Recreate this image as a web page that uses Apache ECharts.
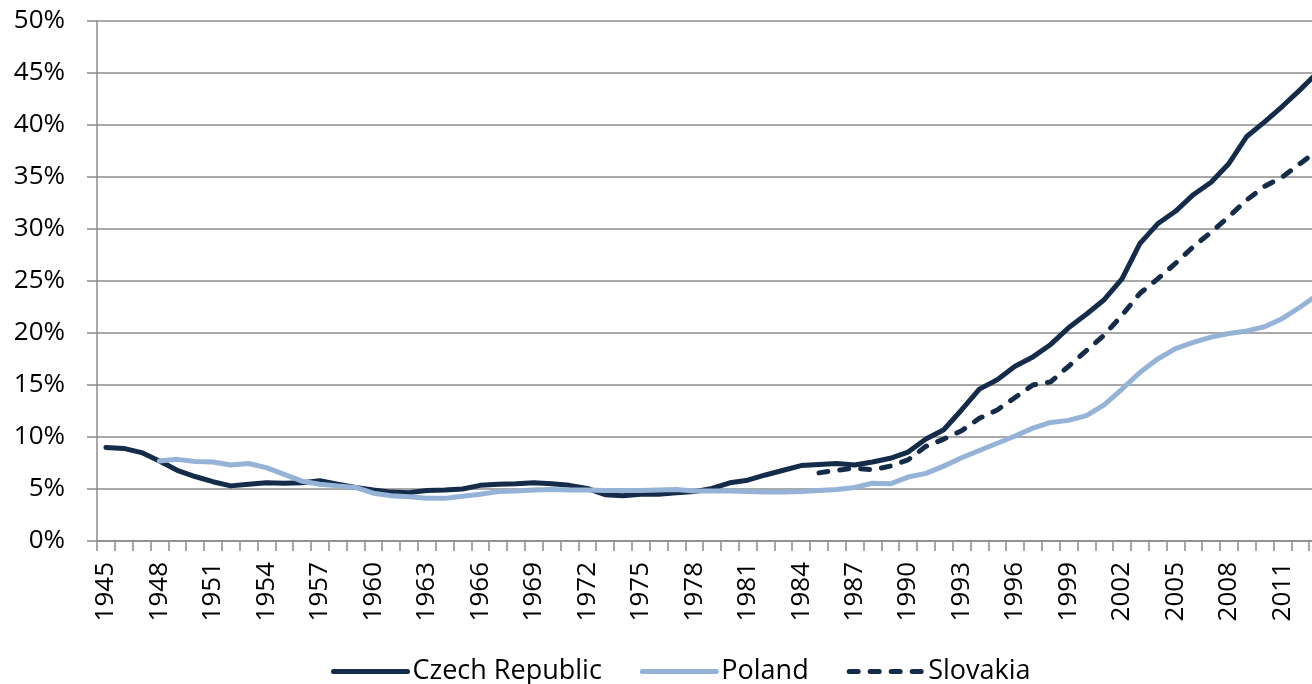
<!DOCTYPE html>
<html>
<head>
<meta charset="utf-8">
<script src="https://cdn.jsdelivr.net/npm/echarts@6.0.0/dist/echarts.min.js"></script>
<style>
  html, body { margin: 0; padding: 0; background: #fff; }
  #chart { width: 1312px; height: 684px; }
</style>
</head>
<body>
<div id="chart"></div>
<script>
// years on the category axis
var years = ['1945','1946','1947','1948','1949','1950','1951','1952','1953','1954',
  '1955','1956','1957','1958','1959','1960','1961','1962','1963','1964',
  '1965','1966','1967','1968','1969','1970','1971','1972','1973','1974',
  '1975','1976','1977','1978','1979','1980','1981','1982','1983','1984',
  '1985','1986','1987','1988','1989','1990','1991','1992','1993','1994',
  '1995','1996','1997','1998','1999','2000','2001','2002','2003','2004',
  '2005','2006','2007','2008','2009','2010','2011','2012','2013'];

// Czech Republic, 1945-2013 (%)
var czech = [9.0, 8.9, 8.5, 7.7, 6.8, 6.2, 5.7, 5.3, 5.45, 5.6,
  5.55, 5.6, 5.8, 5.45, 5.15, 4.9, 4.7, 4.65, 4.85, 4.9,
  5.0, 5.35, 5.45, 5.5, 5.6, 5.5, 5.35, 5.05, 4.45, 4.35,
  4.5, 4.5, 4.65, 4.75, 5.05, 5.6, 5.85, 6.35, 6.8, 7.25,
  7.35, 7.45, 7.3, 7.6, 7.95, 8.55, 9.8, 10.7, 12.6, 14.6,
  15.5, 16.8, 17.7, 18.9, 20.5, 21.8, 23.2, 25.2, 28.6, 30.5,
  31.7, 33.3, 34.5, 36.3, 38.9, 40.3, 41.8, 43.4, 45.1];

// Poland, 1948-2013 (%)
var polandStart = '1948';
var poland = [7.7, 7.85, 7.65, 7.6, 7.3, 7.45, 7.05,
  6.4, 5.75, 5.45, 5.3, 5.15, 4.6, 4.35, 4.25, 4.1, 4.1,
  4.3, 4.5, 4.75, 4.8, 4.9, 4.95, 4.9, 4.9, 4.85, 4.85,
  4.85, 4.9, 4.95, 4.8, 4.8, 4.8, 4.75, 4.7, 4.7, 4.75,
  4.85, 4.95, 5.15, 5.55, 5.5, 6.15, 6.5, 7.2, 8.0, 8.7,
  9.4, 10.1, 10.85, 11.4, 11.6, 12.05, 13.1, 14.6, 16.2, 17.5,
  18.5, 19.1, 19.6, 19.95, 20.2, 20.6, 21.4, 22.5, 23.7];

// Slovakia, 1985-2013 (%)
var slovakiaStart = '1985';
var slovakia = [6.55, 6.8, 7.0, 6.85, 7.2, 7.8, 9.1, 9.8, 10.6, 11.8,
  12.6, 13.8, 15.0, 15.3, 16.8, 18.3, 19.8, 21.7, 23.8, 25.2,
  26.7, 28.3, 29.7, 31.2, 32.8, 34.1, 35.0, 36.3, 37.6];

var yTicks = [0, 5, 10, 15, 20, 25, 30, 35, 40, 45, 50];

// pad a series that starts later than 1945 with nulls
function pad(startYear, values) {
  var n = years.indexOf(startYear);
  var out = [];
  for (var i = 0; i < n; i++) out.push(null);
  return out.concat(values);
}

var dark = '#142b4a';
var light = '#95b3d7';
var gridGray = '#8c8c8c';
var font = '"Open Sans", "Noto Sans", sans-serif';

var chart = echarts.init(document.getElementById('chart'), null, { renderer: 'canvas' });
chart.setOption({
  animation: false,
  backgroundColor: '#fff',
  grid: {
    left: 97,
    top: 21,
    width: 1230,   // the last year runs past the right edge, as in the picture
    height: 520,
    outerBoundsMode: 'none',
    containLabel: false
  },
  legend: {
    left: 326,
    top: 653,
    itemWidth: 74,
    itemHeight: 14,
    itemGap: 38,
    itemStyle: { opacity: 0 },
    lineStyle: { width: 5, cap: 'round' },
    textStyle: { fontFamily: font, fontSize: 27, color: '#000' },
    data: ['Czech Republic', 'Poland', 'Slovakia']
  },
  xAxis: {
    type: 'category',
    data: years,
    boundaryGap: true,
    axisLine: { lineStyle: { color: gridGray, width: 1.5 } },
    axisTick: { show: true, interval: 0, length: 10, lineStyle: { color: gridGray, width: 1.5 } },
    axisLabel: {
      interval: 2,
      rotate: 90,
      margin: 21,
      color: '#000',
      fontFamily: font,
      fontSize: 26
    },
    splitLine: { show: false }
  },
  yAxis: {
    type: 'value',
    min: yTicks[0],
    max: yTicks[yTicks.length - 1],
    interval: 5,
    axisLine: { show: true, lineStyle: { color: gridGray, width: 1.5 } },
    axisTick: { show: true, length: 10, lineStyle: { color: gridGray, width: 1.5 } },
    axisLabel: {
      margin: 32,
      color: '#000',
      fontFamily: font,
      fontSize: 26,
      formatter: '{value}%'
    },
    splitLine: { lineStyle: { color: gridGray, width: 1.5 } }
  },
  series: [
    {
      name: 'Czech Republic',
      type: 'line',
      data: czech,
      showSymbol: false,
      symbol: 'none',
      color: dark,
      lineStyle: { color: dark, width: 5, cap: 'round', join: 'round' }
    },
    {
      name: 'Poland',
      type: 'line',
      data: pad(polandStart, poland),
      showSymbol: false,
      symbol: 'none',
      color: light,
      lineStyle: { color: light, width: 5, cap: 'round', join: 'round' }
    },
    {
      name: 'Slovakia',
      type: 'line',
      data: pad(slovakiaStart, slovakia),
      showSymbol: false,
      symbol: 'none',
      color: dark,
      lineStyle: { color: dark, width: 5, type: [9, 12], cap: 'round', join: 'round' }
    }
  ]
});
</script>
</body>
</html>
